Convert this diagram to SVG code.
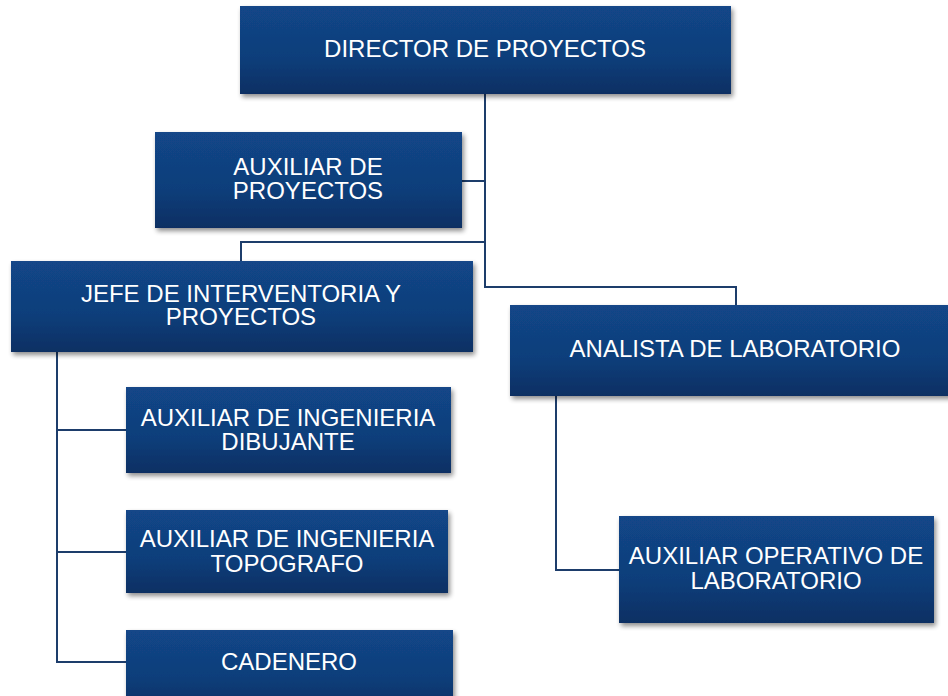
<svg xmlns="http://www.w3.org/2000/svg" width="948" height="696" viewBox="0 0 948 696">
<defs>
<linearGradient id="g" x1="0" y1="0" x2="0" y2="1">
<stop offset="0" stop-color="#124688"/>
<stop offset="0.6" stop-color="#103e7a"/>
<stop offset="1" stop-color="#0b2f63"/>
</linearGradient>
<filter id="sh" x="-5%" y="-10%" width="112%" height="130%">
<feGaussianBlur in="SourceAlpha" stdDeviation="2.5"/>
<feOffset dx="2" dy="3" result="b"/>
<feComponentTransfer><feFuncA type="linear" slope="0.45"/></feComponentTransfer>
<feMerge><feMergeNode/><feMergeNode in="SourceGraphic"/></feMerge>
</filter>
</defs>
<style>
.box{fill:url(#g);filter:url(#sh)}
.t{font-family:"Liberation Sans",Arial,sans-serif;font-size:24px;fill:#ffffff;text-anchor:middle}
.c{fill:none;stroke:#1d3d6b;stroke-width:2}
</style>
<rect width="948" height="696" fill="#ffffff"/>
<g id="connectors">
<path class="c" d="M485 94 V287 H736 V305"/>
<path class="c" d="M462 181 H485"/>
<path class="c" d="M485 242 H241 V261"/>
<path class="c" d="M57 352 V662 H126"/>
<path class="c" d="M57 430 H126"/>
<path class="c" d="M57 552 H126"/>
<path class="c" d="M556 396 V570 H619"/>
</g>
<g id="director">
<rect class="box" x="240" y="6" width="491" height="88"/>
<text class="t" x="485" y="57">DIRECTOR DE PROYECTOS</text>
</g>
<g id="auxiliar-proyectos">
<rect class="box" x="155" y="132" width="307" height="96"/>
<text class="t" x="308" y="175">AUXILIAR DE</text>
<text class="t" x="308" y="199">PROYECTOS</text>
</g>
<g id="jefe">
<rect class="box" x="11" y="261" width="462" height="91"/>
<text class="t" x="241" y="302">JEFE DE INTERVENTORIA Y</text>
<text class="t" x="241" y="325">PROYECTOS</text>
</g>
<g id="analista">
<rect class="box" x="510" y="305" width="450" height="91"/>
<text class="t" x="735" y="357">ANALISTA DE LABORATORIO</text>
</g>
<g id="dibujante">
<rect class="box" x="126" y="387" width="325" height="86"/>
<text class="t" x="288" y="426">AUXILIAR DE INGENIERIA</text>
<text class="t" x="288" y="450">DIBUJANTE</text>
</g>
<g id="topografo">
<rect class="box" x="126" y="510" width="322" height="83"/>
<text class="t" x="287" y="547">AUXILIAR DE INGENIERIA</text>
<text class="t" x="287" y="572">TOPOGRAFO</text>
</g>
<g id="cadenero">
<rect class="box" x="126" y="630" width="327" height="80"/>
<text class="t" x="289" y="670">CADENERO</text>
</g>
<g id="auxiliar-operativo">
<rect class="box" x="619" y="516" width="315" height="107"/>
<text class="t" x="776" y="564">AUXILIAR OPERATIVO DE</text>
<text class="t" x="776" y="589">LABORATORIO</text>
</g>
</svg>
